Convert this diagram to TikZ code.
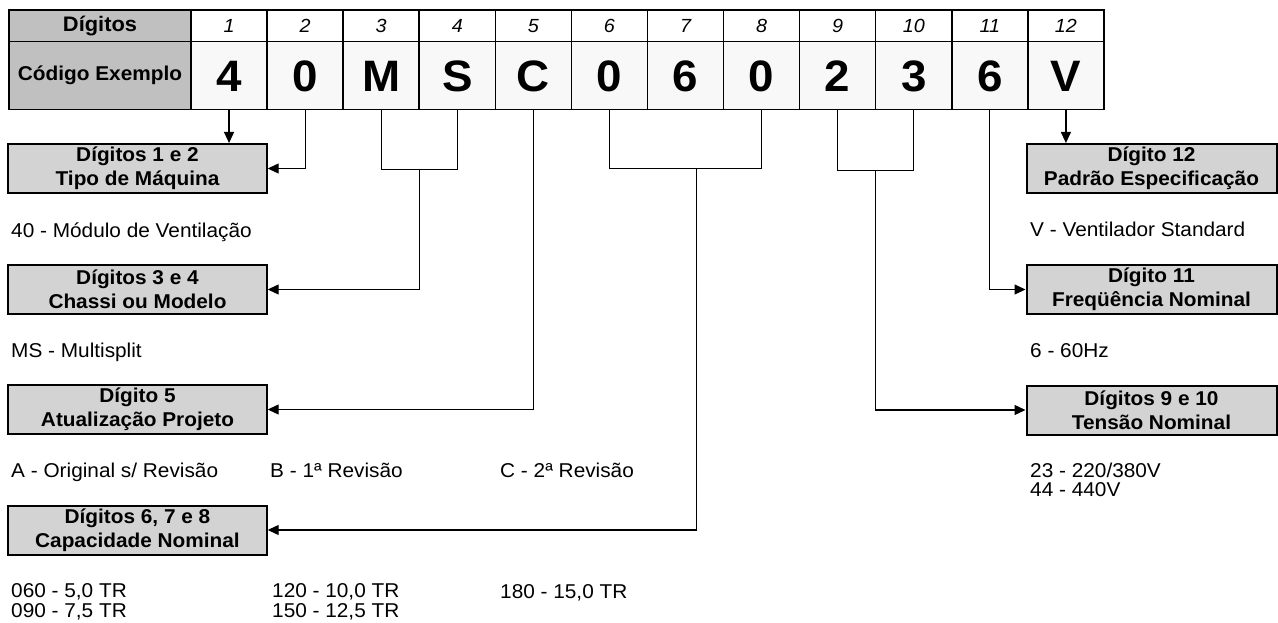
\documentclass[tikz,border=0pt]{standalone}
\usepackage{fontspec}
\setmainfont{Liberation Sans}[FakeStretch=1.04]
\usepackage{tikz}
\usetikzlibrary{calc,positioning,arrows.meta}

\definecolor{cellgray}{RGB}{192,192,192}
\definecolor{boxgray}{RGB}{211,211,211}
\definecolor{digitbg}{RGB}{248,248,248}

\begin{document}
\begin{tikzpicture}[x=1pt,y=-1pt,
    labcell/.style={draw,line width=1.5pt,fill=cellgray,anchor=north west,
      inner sep=0pt,outer sep=0pt,minimum width=182pt},
    numcell/.style={draw,line width=1.5pt,fill=white,anchor=north west,
      inner sep=0pt,outer sep=0pt,minimum width=76.08pt,minimum height=31.7pt,
      font=\fontsize{19}{19}\selectfont\itshape},
    charcell/.style={draw,line width=1.5pt,fill=digitbg,anchor=north west,
      inner sep=0pt,outer sep=0pt,minimum width=76.08pt,minimum height=67.6pt,
      text height=32pt,text depth=0pt,
      font=\fontsize{44}{44}\selectfont\bfseries},
    infobox/.style={draw,line width=2pt,fill=boxgray,align=center,
      inner sep=0pt,minimum height=49pt,
      font=\fontsize{20}{24}\selectfont\bfseries},
    leftbox/.style={infobox,minimum width=258.4pt},
    rightbox/.style={infobox,minimum width=250pt},
    txt/.style={anchor=base west,inner sep=0pt,align=left,
      font=\fontsize{20}{19.4}\selectfont},
    conn/.style={line width=1.2pt},
    arr/.style={conn,-{Triangle[length=11pt,width=10pt]}}]
    \useasboundingbox (0,0) rectangle (1278,623);

    % table
    \node [labcell,minimum height=31.7pt,font=\fontsize{21}{21}\selectfont\bfseries]
      (digitos) at (9,10) {Dígitos};
    \node [labcell,minimum height=67.6pt,font=\fontsize{20}{20}\selectfont\bfseries]
      (exemplo) at (9,41.7) {Código Exemplo};
    \foreach \i/\c in {1/4,2/0,3/M,4/S,5/C,6/0,7/6,8/0,9/2,10/3,11/6,12/V} {
      \node [numcell] (d\i) at ({191+76.08*(\i-1)},10) {\i};
      \node [charcell] (c\i) at ({191+76.08*(\i-1)},41.7) {\c};
    }

    % boxes
    \node [leftbox] (tipo) at (137.5,168.5) {Dígitos 1 e 2\\Tipo de Máquina};
    \node [leftbox] (chassi) at (137.5,289.5) {Dígitos 3 e 4\\Chassi ou Modelo};
    \node [leftbox] (atual) at (137.5,409.5) {Dígito 5\\Atualização Projeto};
    \node [leftbox] (capac) at (137.5,530) {Dígitos 6, 7 e 8\\Capacidade Nominal};
    \node [rightbox] (padrao) at (1151.5,168.5) {Dígito 12\\Padrão Especificação};
    \node [rightbox] (freq) at (1151.5,289.5) {Dígito 11\\Freqüência Nominal};
    \node [rightbox] (tensao) at (1151.5,410) {Dígitos 9 e 10\\Tensão Nominal};

    % option texts (base = last line)
    \node [txt] (t40) at (11,237) {40 - Módulo de Ventilação};
    \node [txt] (tms) at (11,357.5) {MS - Multisplit};
    \node [txt] (ta) at (11,477.3) {A - Original s/ Revisão};
    \node [txt] (tb) at (270,477.3) {B - 1ª Revisão};
    \node [txt] (tc) at (500,477.3) {C - 2ª Revisão};
    \node [txt] (t060) at (11,617.3) {060 - 5,0 TR\\090 - 7,5 TR};
    \node [txt] (t120) at (272,617.3) {120 - 10,0 TR\\150 - 12,5 TR};
    \node [txt] (t180) at (500,598) {180 - 15,0 TR};
    \node [txt] (tv) at (1030,236.5) {V - Ventilador Standard};
    \node [txt] (t6) at (1030,357.5) {6 - 60Hz};
    \node [txt] (t23) at (1030,496.7) {23 - 220/380V\\44 - 440V};

    % connectors
    \coordinate (j34) at ($(c3.south)!0.5!(c4.south)+(0,60.5)$);
    \coordinate (j68) at ($(c6.south)!0.57!(c8.south)+(0,59)$);
    \coordinate (j910) at ($(c9.south)!0.5!(c10.south)+(0,61.5)$);

    \draw [arr] (c1.south) -- (c1.south |- tipo.north);
    \draw [arr] (c2.south) |- (tipo.east);
    \draw [conn] (c3.south) |- (j34) -| (c4.south);
    \draw [arr] (j34) |- (chassi.east);
    \draw [arr] (c5.south) |- (atual.east);
    \draw [conn] (c6.south) |- (j68) -| (c8.south);
    \draw [arr] (j68) |- (capac.east);
    \draw [conn] (c9.south) |- (j910) -| (c10.south);
    \draw [arr] (j910) |- (tensao.west);
    \draw [arr] (c11.south) |- (freq.west);
    \draw [arr] (c12.south) -- (c12.south |- padrao.north);
  \end{tikzpicture}
\end{document}
